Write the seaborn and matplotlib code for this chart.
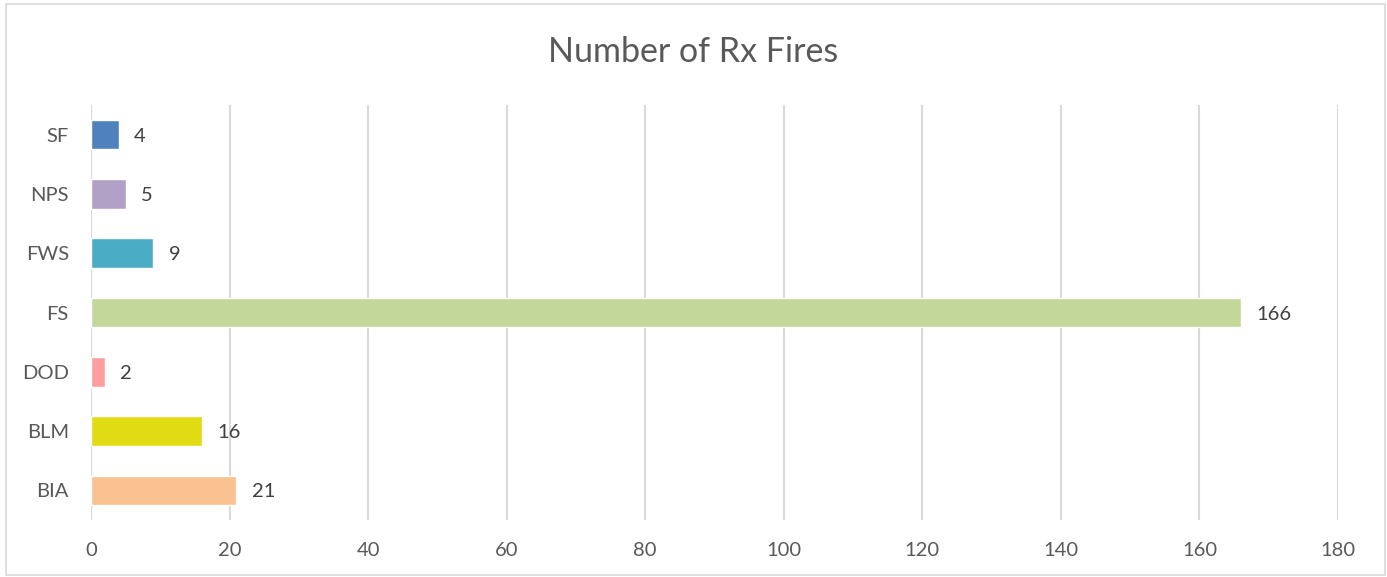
import matplotlib
matplotlib.use("Agg")
import matplotlib.pyplot as plt
import seaborn as sns
import pandas as pd
from matplotlib.patches import Rectangle

agencies = ["SF", "NPS", "FWS", "FS", "DOD", "BLM", "BIA"]
fires = [4, 5, 9, 166, 2, 16, 21]
bar_colors = ["#4F81BD", "#B2A1C7", "#4BACC6", "#C4D79B", "#FF9E9E", "#E1DB13", "#F9C190"]
x_ticks = [0, 20, 40, 60, 80, 100, 120, 140, 160, 180]

sns.set_theme(style="white")
plt.rcParams["font.family"] = ["Lato", "DejaVu Sans"]

df = pd.DataFrame({"agency": agencies, "fires": fires})

fig = plt.figure(figsize=(13.87, 5.77), dpi=100)
ax = fig.add_axes([0.0656, 0.0988, 0.8991, 0.7192])

sns.barplot(data=df, x="fires", y="agency", hue="agency", order=agencies,
            palette=dict(zip(agencies, bar_colors)), orient="h",
            width=0.5, legend=False, ax=ax, saturation=1)

for cont in ax.containers:
    for t in ax.bar_label(cont, padding=11, fontsize=14.5, color="#404040"):
        t.set_va("center_baseline")

ax.set_xlim(0, 180)
ax.set_ylim(6.5, -0.5)
ax.set_xticks(x_ticks)
ax.xaxis.grid(True, color="#D9D9D9", linewidth=1.5)
ax.set_axisbelow(True)
for s in ax.spines.values():
    s.set_visible(False)
ax.axvline(0, color="#D9D9D9", linewidth=1.5, zorder=0)
ax.tick_params(axis="both", length=0, labelsize=14.5, labelcolor="#595959", pad=16)
ax.set_xlabel("")
ax.set_ylabel("")

fig.text(0.5, 0.91, "Number of Rx Fires", ha="center", va="center",
         fontsize=24.5, color="#595959")

fig.patches.append(Rectangle((0.004, 0.003), 0.9945, 0.99, transform=fig.transFigure,
                             fill=False, edgecolor="#D9D9D9", linewidth=1.2))

fig.savefig("out.png", dpi=100)
